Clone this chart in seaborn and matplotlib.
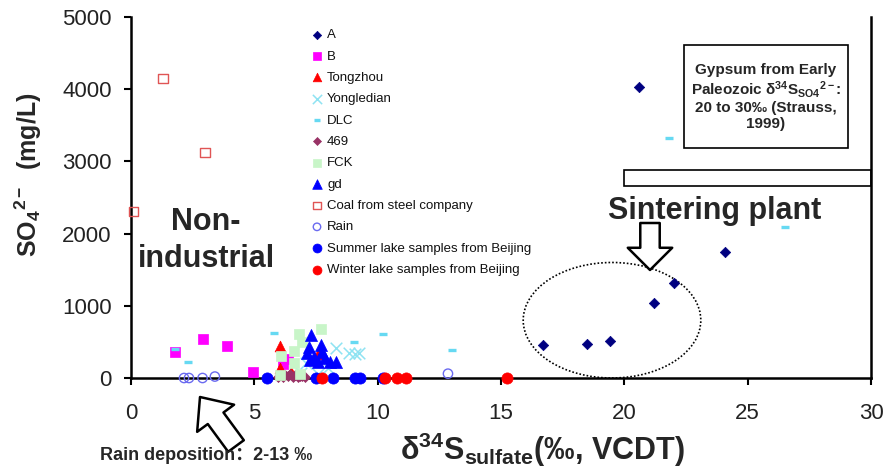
import matplotlib
matplotlib.use("Agg")
import matplotlib.pyplot as plt
import seaborn as sns
from matplotlib.patches import Ellipse, Rectangle

# ---------------- data ----------------
A_x = [16.7, 18.5, 19.4, 21.2, 22.0, 24.1, 20.6]
A_y = [455, 470, 510, 1040, 1320, 1750, 4030]
B_x = [1.8, 2.9, 3.9, 4.95, 6.15, 6.35]
B_y = [360, 540, 445, 85, 190, 270]
Tongzhou_x = [6.05, 6.05, 6.5, 7.6]
Tongzhou_y = [440, 140, 80, 330]
Yongledian_x = [8.3, 8.85, 9.1, 9.25, 7.1, 6.9, 8.0, 7.6]
Yongledian_y = [410, 340, 330, 350, 210, 70, 140, 60]
DLC_x = [1.8, 2.3, 5.8, 9.05, 10.2, 13.0, 21.8, 26.5]
DLC_y = [400, 220, 630, 500, 610, 390, 3320, 2090]
S469_x = [5.95, 6.05, 6.15, 6.25, 6.35, 6.45, 6.55, 6.65, 6.75, 6.85, 6.95, 7.05]
S469_y = [20, 45, 15, 35, 25, 50, 20, 40, 15, 30, 25, 10]
FCK_x = [6.8, 6.95, 7.7, 6.6, 6.1, 6.6, 6.85, 6.05]
FCK_y = [610, 500, 680, 380, 310, 210, 60, 40]
gd_x = [7.3, 7.2, 7.7, 7.15, 7.4, 7.75, 7.85, 7.6, 8.05, 8.3, 7.25]
gd_y = [600, 430, 460, 340, 290, 360, 280, 220, 220, 220, 250]
Coal_x = [1.3, 3.0, 0.1]
Coal_y = [4150, 3120, 2310]
Rain_x = [2.15, 2.35, 2.9, 3.4, 12.85]
Rain_y = [0, 0, 0, 20, 60]
Summer_x = [5.5, 7.5, 8.2, 9.1, 9.3, 10.2]
Summer_y = [0, 0, 0, 0, 0, 0]
Winter_x = [7.75, 10.3, 10.8, 11.15, 15.25]
Winter_y = [0, 0, 0, 0, 0]

x_ticks = [0, 5, 10, 15, 20, 25, 30]
y_ticks = [0, 1000, 2000, 3000, 4000, 5000]

# ---------------- style ----------------
sns.set_theme(style="white")
plt.rcParams["font.family"] = ["Liberation Sans", "Noto Sans CJK SC", "DejaVu Sans"]
plt.rcParams["mathtext.fontset"] = "custom"
plt.rcParams["mathtext.rm"] = "Liberation Sans"
plt.rcParams["mathtext.bf"] = "Liberation Sans:bold"
plt.rcParams["mathtext.it"] = "Liberation Sans:italic"

W, H = 885, 472
fig = plt.figure(figsize=(W / 100, H / 100), dpi=100)
ax = fig.add_axes([131 / W, 1 - 378 / H, 740 / W, 361 / H])

series = [
    ("A", A_x, A_y, dict(marker="D", s=28, color="#000080", edgecolor="#000080", linewidth=0.5)),
    ("B", B_x, B_y, dict(marker="s", s=60, color="#FF00FF", edgecolor="#FF00FF", linewidth=0.5)),
    ("Tongzhou", Tongzhou_x, Tongzhou_y, dict(marker="^", s=60, color="#FF0000", edgecolor="#FF0000", linewidth=0.5)),
    ("Yongledian", Yongledian_x, Yongledian_y, dict(marker="x", s=70, color="#8FE3F2", linewidth=1.1)),
    ("DLC", DLC_x, DLC_y, dict(marker="_", s=30, color="#66D9F2", linewidth=2.4)),
    ("469", S469_x, S469_y, dict(marker="D", s=26, color="#993366", edgecolor="#993366", linewidth=0.5)),
    ("FCK", FCK_x, FCK_y, dict(marker="s", s=45, color="#C8F5C8", edgecolor="#C8F5C8", linewidth=0.5)),
    ("gd", gd_x, gd_y, dict(marker="^", s=75, color="#0000FF", edgecolor="#0000FF", linewidth=0.5)),
    ("Coal from steel company", Coal_x, Coal_y, dict(marker="s", s=45, color="#E05555", facecolor="none", edgecolor="#E05555", linewidth=1.0)),
    ("Rain", Rain_x, Rain_y, dict(marker="o", s=45, color="#6A6AF0", facecolor="none", edgecolor="#6A6AF0", linewidth=1.0)),
    ("Summer lake samples from Beijing", Summer_x, Summer_y, dict(marker="o", s=65, color="#0000FF", edgecolor="#0000FF", linewidth=0.5)),
    ("Winter lake samples from Beijing", Winter_x, Winter_y, dict(marker="o", s=65, color="#FF0000", edgecolor="#FF0000", linewidth=0.5)),
]

for name, xs, ys, kw in series:
    sns.scatterplot(x=xs, y=ys, ax=ax, label=name, clip_on=False, zorder=3, **kw)

ax.set_xlim(0, 30)
ax.set_ylim(0, 5000)
ax.set_xticks(x_ticks)
ax.set_yticks(y_ticks)
ax.set_xticklabels([str(t) for t in x_ticks])
ax.set_yticklabels([str(t) for t in y_ticks])
ax.grid(False)
ax.set_xlabel("")
ax.set_ylabel("")
for side in ["left", "bottom", "right"]:
    ax.spines[side].set_visible(True)
    ax.spines[side].set_color("black")
    ax.spines[side].set_linewidth(1.8)
ax.spines["top"].set_visible(False)
ax.tick_params(axis="both", which="major", direction="out", length=5, width=1.5,
               color="black", labelsize=16, labelcolor="#222222")
ax.tick_params(axis="y", pad=9, right=False, left=True)
ax.tick_params(axis="x", pad=13, bottom=True)

leg = ax.legend(loc="upper left", bbox_to_anchor=(311.7 / W, 1 - 29 / H),
                bbox_transform=fig.transFigure, frameon=False, fontsize=9.5,
                handlelength=0.8, handletextpad=0.36, labelspacing=0.69,
                borderpad=0, borderaxespad=0, markerscale=0.8)
for t in leg.get_texts():
    t.set_color("#111111")

# ---------------- annotations ----------------
ax.add_patch(Ellipse((19.5, 800), 7.2, 1600, fill=False, ec="black",
                     ls=(0, (1, 1.2)), lw=1.2, clip_on=False, zorder=2))
ax.add_patch(Rectangle((20, 2660), 10, 220, fill=False, ec="black", lw=1.2,
                       clip_on=False, zorder=2))

fig.add_artist(Rectangle((684 / W, 1 - 148 / H), 164 / W, 103 / H,
                         transform=fig.transFigure, fill=False, ec="black", lw=1.2))
fig.text(766 / W, 1 - 97 / H,
         "Gypsum from Early\n"
         "Paleozoic δ$^{\\mathbf{34}}$S$_{\\mathbf{SO4}}$$^{\\mathbf{2-}}$:\n"
         "20 to 30‰ (Strauss,\n1999)",
         ha="center", va="center", fontsize=11, fontweight="bold",
         linespacing=1.12, multialignment="center")

fig.text(206 / W, 1 - 230 / H, "Non-", ha="center", va="baseline",
         fontsize=22, fontweight="bold")
fig.text(206 / W, 1 - 267 / H, "industrial", ha="center", va="baseline",
         fontsize=22, fontweight="bold")
fig.text(715 / W, 1 - 219 / H, "Sintering plant", ha="center", va="baseline",
         fontsize=22, fontweight="bold")

arrow_kw = dict(fc="white", ec="black", lw=1.8, shrinkA=0, shrinkB=0, mutation_scale=10)
ax.annotate("", xy=(650, H - 270), xytext=(650, H - 223),
            xycoords="figure pixels", textcoords="figure pixels",
            arrowprops=dict(arrowstyle="simple,head_length=1.6,head_width=3.2,tail_width=1.4",
                            **arrow_kw))
ax.annotate("", xy=(200, H - 397), xytext=(236, H - 446),
            xycoords="figure pixels", textcoords="figure pixels",
            arrowprops=dict(arrowstyle="simple,head_length=1.9,head_width=3.3,tail_width=1.4",
                            **arrow_kw))

fig.text(100 / W, 1 - 460 / H, "Rain deposition：2-13 ‰", ha="left", va="baseline",
         fontsize=13, fontweight="bold")
fig.text(542 / W, 1 - 460 / H,
         "δ$^{\\mathbf{34}}$S$_{\\mathbf{sulfate}}$(‰, VCDT)",
         ha="center", va="baseline", fontsize=22, fontweight="bold")
fig.text(28 / W, 1 - 175 / H, "SO$_{\\mathbf{4}}$$^{\\mathbf{2-}}$  (mg/L)",
         ha="center", va="center", rotation=90, fontsize=18, fontweight="bold")

fig.savefig("out.png", dpi=100)
